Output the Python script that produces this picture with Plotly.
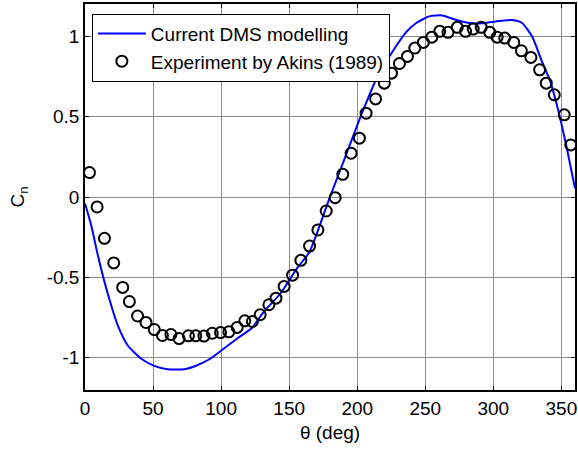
import plotly.graph_objects as go

# DMS model curve
theta_model = [0, 4.5, 9.4, 14.3, 19.2, 24, 31.3, 41.1, 50.9, 60.6, 72.8, 82.5, 92.3, 102.1,
               111.8, 122.8, 131.3, 143.6, 155.7, 165, 179.6, 191.8, 204, 216, 235.5, 243.1,
               252.8, 262.5, 272.3, 281, 291.8, 299.1, 306.4, 313.7, 321.1, 328.4, 335.7,
               341.8, 347.9, 354, 360]
cn_model = [-0.04, -0.174, -0.361, -0.527, -0.672, -0.797, -0.922, -1.004, -1.05, -1.071,
            -1.071, -1.046, -1.004, -0.942, -0.88, -0.813, -0.714, -0.60, -0.444, -0.34,
            -0.008, 0.262, 0.532, 0.77, 1.02, 1.08, 1.123, 1.129, 1.102, 1.084, 1.08, 1.088,
            1.096, 1.1, 1.082, 0.999, 0.843, 0.719, 0.532, 0.303, 0.054]

# Experiment by Akins (1989)
theta_exp = [3.3, 8.9, 14.3, 21.1, 27.7, 32.6, 38.6, 44.8, 50.9, 56.9, 63.1, 69.1, 76, 81.4,
             87.4, 93.5, 99.6, 105.7, 111.8, 117.4, 123, 128.7, 135.1, 140.3, 146.3, 152.5,
             158.6, 165, 171.1, 177.2, 183.8, 189.4, 195.5, 201.6, 206.5, 213.5, 219.9, 225.2,
             231, 236.9, 242.3, 248.6, 254.8, 260.6, 266.7, 273.5, 279.6, 285.2, 291.1, 297.4,
             302.8, 308.4, 315, 320.6, 327.6, 334, 338.9, 344.8, 352.1, 356.9]
cn_exp = [0.152, -0.062, -0.257, -0.41, -0.562, -0.65, -0.74, -0.78, -0.824, -0.861, -0.855,
          -0.88, -0.863, -0.863, -0.865, -0.847, -0.843, -0.838, -0.811, -0.77, -0.774, -0.732,
          -0.67, -0.629, -0.556, -0.486, -0.394, -0.305, -0.205, -0.087, -0.004, 0.141, 0.272,
          0.366, 0.521, 0.61, 0.708, 0.77, 0.83, 0.874, 0.926, 0.961, 0.994, 1.03, 1.024,
          1.055, 1.03, 1.044, 1.055, 1.024, 0.994, 0.988, 0.961, 0.909, 0.868, 0.791, 0.708,
          0.635, 0.511, 0.324]

x_ticks = [0, 50, 100, 150, 200, 250, 300, 350]
y_ticks = [-1, -0.5, 0, 0.5, 1]
y_ticklabels = ["-1", "-0.5", "0", "0.5", "1"]

font = "Liberation Sans, Arial, sans-serif"
fs = 19

fig = go.Figure()
fig.add_trace(go.Scatter(
    x=theta_model, y=cn_model, mode="lines", name="Current DMS modelling",
    line=dict(color="#0000FF", width=2, shape="spline", smoothing=0.6)))
fig.add_trace(go.Scatter(
    x=theta_exp, y=cn_exp, mode="markers", name="Experiment by Akins (1989)",
    marker=dict(symbol="circle-open", size=11, color="black", line=dict(width=2, color="black"))))

axis_common = dict(
    showline=True, linecolor="black", linewidth=1.5, mirror="ticks",
    ticks="inside", ticklen=4, tickcolor="black", tickwidth=1,
    showgrid=True, gridcolor="rgb(140,140,140)", gridwidth=1,
    zeroline=False, tickfont=dict(family=font, size=fs, color="black"),
)

fig.update_layout(
    width=578, height=449,
    margin=dict(l=85, r=1, t=4, b=59),
    paper_bgcolor="white", plot_bgcolor="white",
    font=dict(family=font, size=fs, color="black"),
    showlegend=True,
    legend=dict(x=0.014, y=0.975, xanchor="left", yanchor="top",
                bgcolor="white", bordercolor="black", borderwidth=1,
                font=dict(family=font, size=fs, color="black"),
                tracegroupgap=0, itemwidth=48),
    xaxis=dict(range=[0, 360], tickvals=x_ticks,
               title=dict(text="θ (deg)", font=dict(family=font, size=fs), standoff=8),
               **axis_common),
    yaxis=dict(range=[-1.2, 1.2], tickvals=y_ticks, ticktext=y_ticklabels,
               title=dict(text="C<sub>n</sub>", font=dict(family=font, size=fs), standoff=17),
               **axis_common),
)

fig.write_html("out.html")
